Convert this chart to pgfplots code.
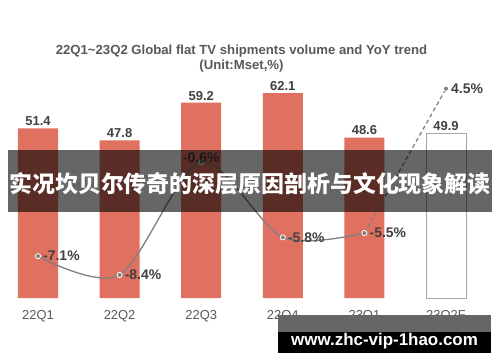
\documentclass[border=0pt]{standalone}
\usepackage{pgfplots}
\pgfplotsset{compat=1.18}
\usepackage{fontspec}
\setmainfont{Liberation Sans}
\newfontfamily\cjk{Noto Sans CJK SC}
\definecolor{barc}{HTML}{E0705F}
\definecolor{linec}{HTML}{808080}
\definecolor{txt}{HTML}{404040}
\definecolor{ttl}{HTML}{595959}
\begin{document}
\begin{tikzpicture}[x=1bp,y=1bp]
\useasboundingbox (0,0) rectangle (500,362);
\fill[white] (0,0) rectangle (500,362);
\pgfplotsset{base/.style={scale only axis, width=473.28bp, height=231bp, at={(5.36bp,64bp)}, anchor=south west, xmin=-0.4, xmax=5.4, axis line style={draw=none}, major tick length=0pt, clip=false, /pgf/number format/assume math mode=true}}
\begin{axis}[base, ymin=0, ymax=70, ytick=\empty, xtick={0,...,5},
  xticklabels={22Q1,22Q2,22Q3,22Q4,23Q1,23Q2F},
  xticklabel style={font=\fontsize{13}{13}\selectfont, text=ttl, anchor=center, yshift=-18bp},
  ybar, bar width=40bp, bar shift=0pt,
  nodes near coords, point meta=explicit symbolic,
  nodes near coords style={font=\bfseries\fontsize{13}{13}\selectfont, text=txt, yshift=-1bp}]
\addplot[fill=barc, draw=none] coordinates {(0,51.4)[51.4] (1,47.8)[47.8] (2,59.2)[59.2] (3,62.1)[62.1] (4,48.6)[48.6]};
\addplot[fill=white, draw=gray!70, line width=1bp] coordinates {(5,49.9)[49.9]};
\end{axis}
\begin{axis}[base, ymin=-10, ymax=6, xtick=\empty, ytick=\empty, point meta=explicit symbolic]
\addplot[linec, line width=1.3bp, smooth, no marks] coordinates {(0,-7.1) (1,-8.4) (2,-0.6) (3,-5.8) (4,-5.5)};
\addplot[linec, line width=1.3bp, dash pattern=on 4bp off 3bp, no marks] coordinates {(4,-5.5) (5,4.5)};
\addplot[only marks, mark=*, mark size=2.6bp, mark options={fill=linec, draw=white, line width=0.8bp},
  nodes near coords, nodes near coords style={anchor=west, xshift=1.5bp, font=\bfseries\fontsize{14}{14}\selectfont, text=txt}]
  coordinates {(0,-7.1)[-7.1\%] (1,-8.4)[-8.4\%] (3,-5.8)[-5.8\%] (4,-5.5)[-5.5\%] (5,4.5)[4.5\%]};
\addplot[only marks, mark=*, mark size=2.6bp, mark options={fill=linec, draw=white, line width=0.8bp},
  nodes near coords, nodes near coords style={anchor=south, yshift=-4bp, font=\bfseries\fontsize{14}{14}\selectfont, text=txt}]
  coordinates {(2,-0.6)[-0.6\%]};
\end{axis}
\node[text=ttl, font=\bfseries\fontsize{13.2}{13.2}\selectfont] at (241.5,311) {22Q1\textasciitilde 23Q2 Global flat TV shipments volume and YoY trend};
\node[text=ttl, font=\bfseries\fontsize{13.2}{13.2}\selectfont] at (241.5,296) {(Unit:Mset,\%)};
\fill[black, opacity=0.6] (8,150) rectangle (492,212);
\node[text=white, font=\cjk\bfseries\fontsize{23}{23}\selectfont] at (250,178) {实况坎贝尔传奇的深层原因剖析与文化现象解读};
\fill[black!60] (278,30) rectangle (491,47);
\fill[black] (278,9) rectangle (491,30);
\node[anchor=base, text=white, font=\bfseries\fontsize{17}{17}\selectfont] at (384.5,17) {www.zhc-vip-1hao.com};
\end{tikzpicture}
\end{document}
